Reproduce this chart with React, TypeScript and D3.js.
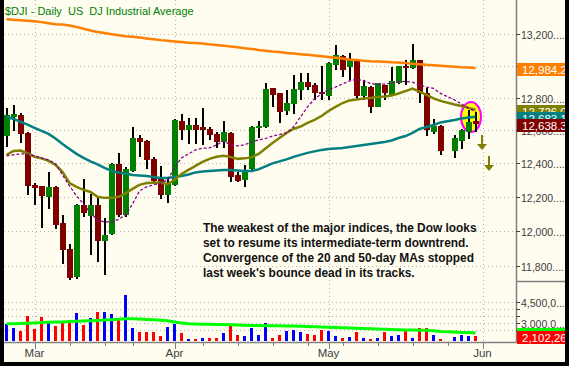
import React, { useEffect, useRef } from 'react';
import * as d3 from 'd3';

// one slot per trading day (2008), plus the empty Memorial Day slot and the Jun tick slot
const slots = [
  '02-26', '02-27', '02-28', '02-29',
  '03-03', '03-04', '03-05', '03-06', '03-07',
  '03-10', '03-11', '03-12', '03-13', '03-14',
  '03-17', '03-18', '03-19', '03-20',
  '03-24', '03-25', '03-26', '03-27', '03-28',
  '03-31', '04-01', '04-02', '04-03', '04-04',
  '04-07', '04-08', '04-09', '04-10', '04-11',
  '04-14', '04-15', '04-16', '04-17', '04-18',
  '04-21', '04-22', '04-23', '04-24', '04-25',
  '04-28', '04-29', '04-30', '05-01', '05-02',
  '05-05', '05-06', '05-07', '05-08', '05-09',
  '05-12', '05-13', '05-14', '05-15', '05-16',
  '05-19', '05-20', '05-21', '05-22', '05-23',
  '05-26', '05-27', '05-28', '05-29', '05-30',
  '06-02',
];
const emptySlots = ['05-26', '06-02'];
const dates = slots.filter((d) => !emptySlots.includes(d));

const opens = [
  12565, 12682, 12694, 12584, 12271, 12265, 12200, 12258, 12048, 11898, 11735, 12153, 12089, 12153,
  11944, 11985, 12397, 12095, 12355, 12553, 12535, 12427, 12307, 12212, 12271, 12657, 12602, 12632,
  12620, 12608, 12580, 12526, 12583, 12331, 12301, 12365, 12616, 12618, 12857, 12830, 12718, 12761,
  12845, 12900, 12879, 12837, 12810, 13004, 13061, 12992, 13030, 12810, 12866, 12745, 12879, 12817,
  12891, 12997, 12983, 13035, 12829, 12590, 12627, 12475, 12535, 12590, 12657,
];
const highs = [
  12737, 12755, 12706, 12590, 12283, 12268, 12349, 12265, 12095, 11927, 12158, 12307, 12218, 12195,
  12077, 12400, 12463, 12379, 12621, 12571, 12541, 12439, 12385, 12319, 12666, 12700, 12675, 12675,
  12737, 12622, 12592, 12654, 12590, 12351, 12391, 12625, 12658, 12892, 12860, 12832, 12848, 12940,
  12951, 12951, 12890, 12997, 13020, 13130, 13067, 13080, 13040, 12910, 12870, 12893, 12880, 12993,
  13000, 13035, 13136, 13038, 12860, 12669, 12630, 12571, 12605, 12725, 12712,
];
const lows = [
  12499, 12596, 12523, 12212, 12153, 12019, 12130, 12013, 11812, 11721, 11727, 12083, 11863, 11823,
  11750, 11980, 12083, 12083, 12350, 12439, 12367, 12283, 12189, 12165, 12265, 12541, 12517, 12517,
  12511, 12541, 12491, 12491, 12291, 12291, 12262, 12360, 12555, 12615, 12743, 12646, 12693, 12699,
  12786, 12848, 12786, 12786, 12786, 12973, 12931, 12910, 12790, 12786, 12707, 12740, 12786, 12810,
  12885, 12879, 12980, 12770, 12565, 12578, 12451, 12433, 12487, 12547, 12590,
];
const closes = [
  12694, 12700, 12578, 12266, 12254, 12206, 12260, 12036, 11892, 11733, 12153, 12106, 12153, 11944,
  11978, 12397, 12095, 12367, 12553, 12529, 12421, 12295, 12212, 12283, 12663, 12602, 12632, 12602,
  12604, 12571, 12526, 12592, 12321, 12297, 12361, 12620, 12626, 12851, 12817, 12714, 12767, 12851,
  12900, 12869, 12827, 12821, 13016, 13067, 12973, 13034, 12810, 12872, 12745, 12889, 12827, 12906,
  12997, 12983, 13035, 12827, 12603, 12627, 12475, 12553, 12602, 12651, 12638.32,
];
// volume, millions of shares
const volumes = [
  2.95, 2.66, 2.45, 3.52, 2.59, 3.45, 3.02, 2.81, 3.07, 3.09, 3.74, 2.88, 3.36, 3.81,
  3.79, 3.66, 3.29, 5.02, 2.66, 2.38, 2.38, 2.38, 2.09, 2.71, 2.95, 2.31, 1.88, 1.86,
  1.93, 1.95, 1.95, 2.31, 2.88, 2.16, 2.07, 2.66, 2.14, 3.0, 1.95, 2.14, 2.45, 2.5,
  2.36, 2.21, 2.14, 2.5, 2.43, 2.07, 1.93, 2.0, 2.36, 1.93, 1.86, 1.93, 2.36, 2.07,
  2.14, 2.5, 1.93, 2.64, 2.64, 2.14, 1.86, 2.0, 2.14, 2.07, 2.102267,
];

const ma200 = [
  13295, 13291, 13288, 13285, 13282, 13276, 13269, 13263, 13260, 13254, 13245, 13234, 13222, 13213,
  13206, 13199, 13192, 13186, 13183, 13178, 13172, 13167, 13161, 13157, 13153, 13149, 13145, 13142,
  13139, 13134, 13130, 13126, 13120, 13116, 13110, 13105, 13099, 13094, 13089, 13085, 13080, 13076,
  13072, 13068, 13064, 13059, 13054, 13049, 13044, 13039, 13035, 13031, 13028, 13026, 13024, 13021,
  13019, 13016, 13012, 13009, 13005, 13002, 12999, 12993, 12990, 12988, 12984.27,
];
const ma50 = [
  12683, 12669, 12652, 12635, 12614, 12596, 12578, 12550, 12517, 12487, 12457, 12433, 12412, 12394,
  12373, 12355, 12346, 12340, 12331, 12328, 12325, 12319, 12313, 12313, 12319, 12325, 12334, 12346,
  12352, 12355, 12358, 12361, 12361, 12358, 12355, 12355, 12364, 12382, 12400, 12412, 12424, 12439,
  12451, 12463, 12472, 12481, 12487, 12490, 12493, 12499, 12505, 12511, 12517, 12523, 12529, 12538,
  12553, 12565, 12584, 12608, 12620, 12632, 12648, 12663, 12672, 12678, 12683.12,
];
const ma20 = [
  12451, 12475, 12477, 12461, 12440, 12430, 12415, 12391, 12349, 12283, 12260, 12242, 12230, 12201,
  12195, 12195, 12201, 12221, 12248, 12272, 12283, 12285, 12285, 12277, 12301, 12337, 12361, 12385,
  12409, 12427, 12440, 12445, 12439, 12427, 12430, 12436, 12457, 12490, 12523, 12553, 12584, 12608,
  12623, 12645, 12663, 12687, 12718, 12743, 12767, 12783, 12789, 12795, 12798, 12804, 12807, 12814,
  12826, 12841, 12857, 12838, 12817, 12796, 12780, 12758, 12749, 12737, 12726.04,
];
const ma10 = [
  12445, 12451, 12457, 12457, 12445, 12433, 12421, 12397, 12331, 12266, 12207, 12159, 12107, 12066,
  12054, 12054, 12069, 12095, 12159, 12236, 12260, 12272, 12281, 12301, 12373, 12433, 12457, 12481,
  12491, 12493, 12511, 12535, 12511, 12505, 12511, 12529, 12541, 12550, 12565, 12574, 12584, 12620,
  12681, 12743, 12792, 12823, 12851, 12866, 12885, 12904, 12913, 12906, 12888, 12882, 12885, 12891,
  12899, 12901, 12896, 12879, 12866, 12857, 12827, 12786, 12761, 12737, 12712,
];
const volMA = [
  2.96, 2.97, 2.98, 3.0, 3.03, 3.05, 3.07, 3.09, 3.1, 3.12, 3.14, 3.16, 3.18, 3.2,
  3.23, 3.26, 3.29, 3.32, 3.33, 3.31, 3.28, 3.25, 3.22, 3.18, 3.1, 3.02, 2.97, 2.95,
  2.94, 2.93, 2.92, 2.91, 2.89, 2.87, 2.86, 2.85, 2.84, 2.83, 2.83, 2.82, 2.81, 2.8,
  2.79, 2.77, 2.76, 2.74, 2.72, 2.7, 2.68, 2.67, 2.65, 2.63, 2.61, 2.59, 2.57, 2.55,
  2.54, 2.53, 2.52, 2.51, 2.5, 2.46, 2.41, 2.37, 2.35, 2.34, 2.31,
];

const priceTicks = [13200, 13000, 12800, 12600, 12400, 12200, 12000, 11800];
const volGrid = [4.5, 4.0, 3.5, 3.0, 2.5];
const volLabels = [4.5, 3.0];
const months = [
  { label: 'Mar', date: '03-03' },
  { label: 'Apr', date: '04-01' },
  { label: 'May', date: '05-01' },
  { label: 'Jun', date: '06-02' },
];
const weekTicks = ['03-10', '03-17', '03-24', '04-07', '04-14', '04-21', '04-28', '05-05', '05-12', '05-19', '05-26'];

const title = '$DJI - Daily  US  DJ Industrial Average';
const notes = [
  'The weakest of the major indices, the Dow looks',
  'set to resume its intermediate-term downtrend.',
  'Convergence of the 20 and 50-day MAs stopped',
  "last week's bounce dead in its tracks.",
];

export default function App() {
  const ref = useRef<SVGSVGElement>(null);

  useEffect(() => {
    const W = 569;
    const H = 366;
    const left = 4;
    const axisX = 516;
    const edge = 565;
    const panelSplit = 281;
    const axisY = 342;
    const volBase = 341;
    const font = 'Arial, "Liberation Sans", sans-serif';

    const svg = d3.select(ref.current);
    svg.selectAll('*').remove();

    const x = d3.scalePoint<string>().domain(slots).range([6.5, 482.5]);
    const y = d3.scaleLog().domain([11800, 13200]).range([266, 34]);
    const yv = d3.scaleLinear().domain([3.0, 4.5]).range([323.3, 302.3]);

    svg.append('rect').attr('width', W).attr('height', H).attr('fill', '#000');
    svg.append('rect').attr('x', left).attr('y', 0).attr('width', edge - left).attr('height', 362).attr('fill', '#fffcf0');

    // dotted grid
    const grid = svg.append('g').attr('stroke', '#b4b4b4').attr('stroke-width', 1).attr('stroke-dasharray', '1,3');
    grid.selectAll('.hp').data(priceTicks).enter().append('line')
      .attr('x1', left).attr('x2', axisX)
      .attr('y1', (d) => Math.round(y(d)) + 0.5).attr('y2', (d) => Math.round(y(d)) + 0.5);
    grid.selectAll('.hv').data(volGrid).enter().append('line')
      .attr('x1', left).attr('x2', axisX)
      .attr('y1', (d) => Math.round(yv(d)) + 0.5).attr('y2', (d) => Math.round(yv(d)) + 0.5);
    grid.selectAll('.vm').data(months).enter().append('line')
      .attr('x1', (d) => Math.round(x(d.date)!) + 0.5).attr('x2', (d) => Math.round(x(d.date)!) + 0.5)
      .attr('y1', 0).attr('y2', axisY);

    // highlight around the last few bars
    svg.append('ellipse').attr('cx', 471).attr('cy', 117).attr('rx', 10).attr('ry', 15)
      .attr('fill', '#ffff00').attr('stroke', '#ff00ff').attr('stroke-width', 2);

    // candles
    const candles = svg.append('g').attr('shape-rendering', 'crispEdges');
    candles.selectAll('.wick').data(dates).enter().append('rect')
      .attr('x', (d) => x(d)! - 1).attr('width', 2)
      .attr('y', (d, i) => y(highs[i])).attr('height', (d, i) => Math.max(1, y(lows[i]) - y(highs[i])))
      .attr('fill', '#000');
    candles.selectAll('.body').data(dates).enter().append('rect')
      .attr('x', (d) => x(d)! - 3).attr('width', 6)
      .attr('y', (d, i) => y(Math.max(opens[i], closes[i])))
      .attr('height', (d, i) => Math.max(2, Math.abs(y(opens[i]) - y(closes[i]))))
      .attr('fill', (d, i) => (closes[i] >= opens[i] ? '#008000' : '#800000'));

    // moving averages
    const line = d3.line<number>().x((d, i) => x(dates[i])!).y((d) => y(d));
    const overlays = [
      { values: ma200, color: '#ff8000', width: 2.5, dash: null },
      { values: ma50, color: '#008080', width: 2.5, dash: null },
      { values: ma20, color: '#808000', width: 2.5, dash: null },
      { values: ma10, color: '#8b008b', width: 1.3, dash: '3,2' },
    ];
    overlays.forEach((o) => {
      svg.append('path').attr('d', line(o.values)).attr('fill', 'none')
        .attr('stroke', o.color).attr('stroke-width', o.width)
        .attr('stroke-dasharray', o.dash);
    });

    // arrows
    [[482, 135], [489, 156]].forEach(([ax, ay]) => {
      svg.append('line').attr('x1', ax).attr('x2', ax).attr('y1', ay).attr('y2', ay + 10)
        .attr('stroke', '#808000').attr('stroke-width', 2);
      svg.append('path').attr('d', `M${ax - 5},${ay + 9}L${ax + 5},${ay + 9}L${ax},${ay + 15}Z`).attr('fill', '#808000');
    });

    // volume
    svg.append('g').attr('shape-rendering', 'crispEdges')
      .selectAll('rect').data(dates).enter().append('rect')
      .attr('x', (d) => Math.round(x(d)! - 1.5)).attr('width', 3)
      .attr('y', (d, i) => yv(volumes[i])).attr('height', (d, i) => volBase - yv(volumes[i]))
      .attr('fill', (d, i) => {
        const prev = i === 0 ? opens[0] : closes[i - 1];
        return closes[i] >= prev ? '#0000ff' : '#ff0000';
      });
    const vline = d3.line<number>().x((d, i) => x(dates[i])!).y((d) => yv(d));
    svg.append('path').attr('d', vline(volMA)).attr('fill', 'none')
      .attr('stroke', '#00ff00').attr('stroke-width', 3);

    // axes frame
    svg.append('line').attr('x1', axisX + 0.5).attr('x2', axisX + 0.5).attr('y1', 0).attr('y2', axisY + 1)
      .attr('stroke', '#808080').attr('stroke-width', 1.5);
    svg.append('line').attr('x1', left).attr('x2', axisX).attr('y1', axisY + 0.5).attr('y2', axisY + 0.5)
      .attr('stroke', '#808080').attr('stroke-width', 1.5);
    svg.append('line').attr('x1', axisX).attr('x2', edge).attr('y1', panelSplit + 0.5).attr('y2', panelSplit + 0.5)
      .attr('stroke', '#808080').attr('stroke-width', 1.5);

    // right axis
    const axisColor = '#404040';
    const yAx = svg.append('g').attr('font-family', font).attr('font-size', 10.5).attr('fill', axisColor);
    priceTicks.forEach((t) => {
      const ty = Math.round(y(t)) + 0.5;
      yAx.append('line').attr('x1', axisX).attr('x2', axisX + 4).attr('y1', ty).attr('y2', ty).attr('stroke', axisColor);
      yAx.append('text').attr('x', axisX + 5).attr('y', ty + 4).text(`${d3.format(',')(t)}....`);
    });
    volGrid.forEach((t) => {
      const ty = Math.round(yv(t)) + 0.5;
      yAx.append('line').attr('x1', axisX).attr('x2', axisX + 4).attr('y1', ty).attr('y2', ty).attr('stroke', axisColor);
    });
    volLabels.forEach((t) => {
      const ty = Math.round(yv(t)) + 0.5;
      yAx.append('text').attr('x', axisX + 5).attr('y', ty + 4).text(`${d3.format(',')(t * 1e6).slice(0, 7)}...`);
    });

    // value tags
    const last = dates.length - 1;
    const tags = [
      { v: y(ma200[last]), color: '#ff8000', text: d3.format(',.2f')(ma200[last]) },
      { v: y(ma20[last]), color: '#808000', text: d3.format(',.2f')(ma20[last]) },
      { v: y(ma50[last]), color: '#008080', text: d3.format(',.2f')(ma50[last]) },
      { v: y(closes[last]), color: '#800000', text: d3.format(',.2f')(closes[last]) },
      { v: yv(volMA[last]), color: '#00ff00', text: d3.format(',')(Math.round(volMA[last] * 1e6)) },
      { v: yv(volumes[last]), color: '#ff0000', text: d3.format(',')(Math.round(volumes[last] * 1e6)) },
    ];
    tags.forEach((t) => {
      const top = Math.round(t.v) - 5;
      svg.append('rect').attr('x', axisX + 1).attr('y', top).attr('width', edge - axisX - 1).attr('height', 13)
        .attr('fill', t.color);
      svg.append('text').attr('x', axisX + 6).attr('y', top + 10.5).attr('font-family', font).attr('font-size', 11.5)
        .attr('fill', '#fff').text(t.text);
    });

    // bottom axis
    const xAx = svg.append('g').attr('stroke', '#808080');
    xAx.selectAll('.mt').data(months).enter().append('line')
      .attr('x1', (d) => Math.round(x(d.date)!) + 0.5).attr('x2', (d) => Math.round(x(d.date)!) + 0.5)
      .attr('y1', axisY).attr('y2', axisY + 7);
    xAx.selectAll('.wt').data(weekTicks).enter().append('line')
      .attr('x1', (d) => Math.round(x(d)!) + 0.5).attr('x2', (d) => Math.round(x(d)!) + 0.5)
      .attr('y1', axisY).attr('y2', axisY + 4);
    svg.append('g').attr('font-family', font).attr('font-size', 11.5).attr('fill', axisColor)
      .selectAll('text').data(months).enter().append('text')
      .attr('x', (d) => x(d.date)!).attr('y', 357).attr('text-anchor', 'middle').text((d) => d.label);

    // black edges over everything
    svg.append('rect').attr('x', 0).attr('y', 0).attr('width', left).attr('height', H).attr('fill', '#000');
    svg.append('rect').attr('x', edge).attr('y', 0).attr('width', W - edge).attr('height', H).attr('fill', '#000');
    svg.append('rect').attr('x', 0).attr('y', 362).attr('width', W).attr('height', H - 362).attr('fill', '#000');

    // title and note
    svg.append('text').attr('x', 5).attr('y', 15).attr('font-family', font).attr('font-size', 11)
      .attr('fill', '#008000').style('white-space', 'pre').text(title);
    const note = svg.append('text').attr('font-family', font).attr('font-size', 11.9)
      .attr('font-weight', 'bold').attr('fill', '#111');
    notes.forEach((n, i) => {
      note.append('tspan').attr('x', 203).attr('y', 232 + i * 15).text(n);
    });
  }, []);

  return (
    <svg ref={ref} width={569} height={366} style={{ position: 'absolute', left: 0, top: 0 }} />
  );
}
